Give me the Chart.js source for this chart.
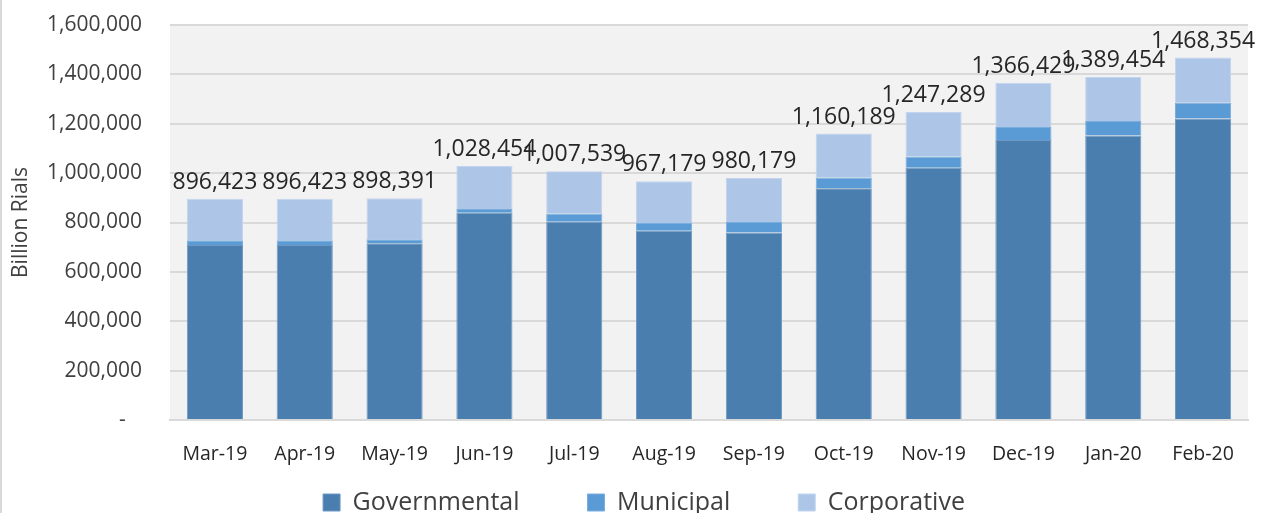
<!DOCTYPE html>
<html>
<head>
<meta charset="utf-8">
<script src="https://cdn.jsdelivr.net/npm/chart.js@4.4.1/dist/chart.umd.min.js"></script>
<style>
  html, body { margin: 0; padding: 0; background: #fff; overflow: hidden; }
  #wrap { border-left: 2px solid #d9d9d9; width: 1261px; height: 573px; }
  canvas { display: block; }
</style>
</head>
<body>
<div id="wrap"><canvas id="chart" width="1261" height="573"></canvas></div>
<script>
const months = ['Mar-19', 'Apr-19', 'May-19', 'Jun-19', 'Jul-19', 'Aug-19',
  'Sep-19', 'Oct-19', 'Nov-19', 'Dec-19', 'Jan-20', 'Feb-20'];
const governmental = [709000, 709000, 716000, 840000, 803000, 767000,
  759000, 939000, 1022000, 1134000, 1152000, 1221000];
const municipal = [19000, 19000, 16000, 15000, 33000, 31000,
  43000, 43000, 45000, 53000, 59000, 64000];
const corporative = [168423, 168423, 166391, 173454, 171539, 169179,
  178179, 178189, 180289, 179429, 178454, 183354];
const totals = [896423, 896423, 898391, 1028454, 1007539, 967179,
  980179, 1160189, 1247289, 1366429, 1389454, 1468354];

const FONT = "'Open Sans', sans-serif";

// grey plot area behind the bars
const plotBg = {
  id: 'plotBg',
  beforeDraw(chart) {
    const a = chart.chartArea;
    const c = chart.ctx;
    c.save();
    c.fillStyle = '#f2f2f2';
    c.fillRect(a.left, a.top, a.right - a.left, a.bottom - a.top);
    c.restore();
  }
};

// legend sits closer to the axis labels than chart.js would put it
const legendShift = {
  id: 'legendShift',
  afterLayout(chart) {
    const lg = chart.legend;
    const h = lg.bottom - lg.top;
    lg.top = 422;
    lg.bottom = 422 + h;
  }
};

// total above each stack
const totalLabels = {
  id: 'totalLabels',
  afterDatasetsDraw(chart) {
    const c = chart.ctx;
    const meta = chart.getDatasetMeta(2);
    c.save();
    c.font = '23px ' + FONT;
    c.fillStyle = '#262626';
    c.textAlign = 'center';
    c.textBaseline = 'alphabetic';
    meta.data.forEach((el, i) => {
      c.fillText(totals[i].toLocaleString('en-US'), el.x, el.y - 10);
    });
    c.restore();
  }
};

const ctx = document.getElementById('chart').getContext('2d');
new Chart(ctx, {
  type: 'bar',
  data: {
    labels: months,
    datasets: [
      { label: 'Governmental', data: governmental, backgroundColor: '#4a7eaf', borderColor: '#6f99c2', borderWidth: 1 },
      { label: 'Municipal', data: municipal, backgroundColor: '#5b9bd5', borderColor: '#7aaedd', borderWidth: 1 },
      { label: 'Corporative', data: corporative, backgroundColor: '#adc5e6', borderColor: '#c3d5ee', borderWidth: 1 }
    ]
  },
  options: {
    responsive: false,
    animation: false,
    datasets: { bar: { categoryPercentage: 1, barPercentage: 0.625 } },
    layout: { padding: { left: 38, right: 15, top: 25, bottom: 0 } },
    plugins: {
      tooltip: { enabled: false },
      legend: {
        position: 'bottom',
        labels: {
          boxWidth: 17,
          boxHeight: 17,
          padding: 68,
          color: '#404040',
          font: { family: FONT, size: 25 }
        }
      }
    },
    scales: {
      x: {
        stacked: true,
        grid: { display: false, drawTicks: false },
        border: { color: '#d9d9d9', width: 2 },
        ticks: { color: '#262626', font: { family: FONT, size: 19.5 }, padding: 23, autoSkip: false, maxRotation: 0 },
        afterFit(scale) { scale.height = 50; }
      },
      y: {
        stacked: true,
        min: 0,
        max: 1600000,
        grid: { color: '#d9d9d9', lineWidth: 2, drawTicks: false },
        border: { display: false },
        ticks: {
          stepSize: 200000,
          padding: 28,
          color: '#404040',
          font: { family: FONT, size: 21 },
          callback: v => v === 0 ? '-   ' : v.toLocaleString('en-US')
        },
        title: {
          display: true,
          text: 'Billion Rials',
          color: '#404040',
          font: { family: FONT, size: 21 },
          padding: { top: -32, bottom: 0 }
        },
        afterFit(scale) {
          scale.width = 130;
          scale.paddingTop = 0;
          scale.paddingBottom = 0;
        }
      }
    }
  },
  plugins: [plotBg, legendShift, totalLabels]
});
</script>
</body>
</html>
